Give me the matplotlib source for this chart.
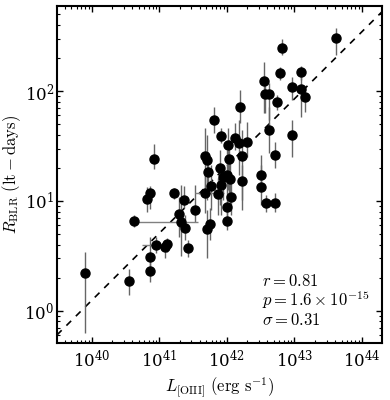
import numpy as np
import matplotlib
matplotlib.use("Agg")
import matplotlib.pyplot as plt

plt.rcParams['mathtext.fontset'] = 'cm'
plt.rcParams['font.family'] = 'serif'
plt.rcParams['font.serif'] = ['DejaVu Serif']

# log10 L[OIII] (erg/s), log10 R_BLR (lt-days) and the ends of the R error bars
log_L = [39.90, 40.56, 40.63, 40.82, 40.87, 40.86, 40.87, 40.93, 40.96, 41.08,
         41.12, 41.22, 41.30, 41.33, 41.38, 41.36, 41.43, 41.53, 41.68, 41.68,
         41.71, 41.70, 41.75, 41.72, 41.76, 41.81, 41.87, 41.90, 41.91, 41.92,
         41.94, 42.00, 42.01, 42.01, 42.02, 42.03, 42.05, 42.06, 42.12, 42.18,
         42.20, 42.22, 42.23, 42.30, 42.50, 42.51, 42.55, 42.57, 42.62, 42.58,
         42.72, 42.63, 42.71, 42.75, 42.79, 42.82, 42.96, 42.96, 43.10, 43.10,
         43.16, 43.61]
log_R = [0.346, 0.273, 0.820, 1.020, 1.069, 0.486, 0.364, 1.382, 0.598, 0.577,
         0.605, 1.069, 0.878, 0.808, 0.756, 1.008, 0.568, 0.917, 1.075, 1.409,
         1.372, 0.744, 0.790, 1.263, 1.136, 1.737, 1.060, 1.297, 1.594, 1.148,
         1.222, 1.236, 0.942, 0.820, 1.509, 1.384, 1.195, 1.033, 1.577, 1.523,
         1.852, 1.181, 1.409, 1.539, 1.124, 1.239, 2.092, 1.974, 1.971, 0.981,
         0.984, 1.646, 1.418, 1.901, 2.162, 2.395, 2.040, 1.600, 2.171, 2.019,
         1.949, 2.481]
log_R_lo = [-0.206, 0.143, 0.762, 0.902, 0.926, 0.371, 0.261, 1.291, 0.523, 0.477,
            0.535, 1.017, 0.671, 0.498, 0.644, 0.935, 0.489, 0.808, 0.890, 1.097,
            1.008, 0.480, 0.644, 1.117, 0.917, 1.618, 0.872, 0.963, 1.527, 0.872,
            1.008, 1.008, 0.826, 0.735, 1.097, 1.008, 0.917, 0.872, 1.464, 1.236,
            1.709, 1.008, 0.917, 1.400, 0.963, 1.097, 1.800, 1.800, 1.737, 0.900,
            0.900, 1.436, 1.300, 1.828, 2.101, 2.329, 1.919, 1.400, 2.101, 1.764,
            1.810, 2.328]
log_R_hi = [0.537, 0.380, 0.872, 1.129, 1.136, 0.671, 0.444, 1.518, 0.674, 0.644,
            0.662, 1.117, 1.036, 1.145, 0.872, 1.136, 0.644, 1.145, 1.282, 1.664,
            1.600, 0.917, 0.935, 1.391, 1.326, 1.855, 1.209, 1.464, 1.664, 1.282,
            1.326, 1.464, 1.054, 0.917, 1.664, 1.555, 1.372, 1.190, 1.709, 1.737,
            2.014, 1.326, 1.645, 1.719, 1.326, 1.418, 2.265, 2.074, 2.074, 1.054,
            1.072, 1.855, 1.536, 1.964, 2.219, 2.474, 2.128, 1.737, 2.228, 2.192,
            2.028, 2.574]

# the few points that also have L error bars
xerr_index = [8, 13, 18]
log_L_lo = [40.75, 40.63, 41.53]
log_L_hi = [41.16, 41.57, 41.96]

# best fit: log R = a + b (log L - 42)
fit_a = 1.317
fit_b = 0.612

L = 10**np.array(log_L)
R = 10**np.array(log_R)
yerr = [R - 10**np.array(log_R_lo), 10**np.array(log_R_hi) - R]

fig = plt.figure(figsize=(3.9, 4.0), dpi=100)
ax = fig.add_axes([0.146, 0.1425, 0.833, 0.8425])

ax.errorbar(L, R, yerr=yerr, fmt='none', ecolor='0.4', elinewidth=1.0, zorder=2)
xi = np.array(xerr_index)
ax.errorbar(L[xi], R[xi],
            xerr=[L[xi] - 10**np.array(log_L_lo), 10**np.array(log_L_hi) - L[xi]],
            fmt='none', ecolor='0.5', elinewidth=1.0, zorder=2)
ax.plot(L, R, 'o', color='k', markersize=6.5, zorder=3)

xlo, xhi = 39.487, 44.294
xx = np.linspace(xlo, xhi, 10)
ax.plot(10**xx, 10**(fit_a + fit_b*(xx - 42)), 'k--', lw=1.2, dashes=(4, 4), zorder=1)

ax.set_xscale('log')
ax.set_yscale('log')
ax.set_xlim(10**xlo, 10**xhi)
ax.set_ylim(10**-0.294, 10**2.775)
ax.set_xticks([1e40, 1e41, 1e42, 1e43, 1e44])
ax.set_yticks([1e0, 1e1, 1e2])

for s in ax.spines.values():
    s.set_linewidth(1.5)
ax.tick_params(which='both', direction='in', top=True, right=True, labelsize=12)
ax.tick_params(axis='y', pad=2)
ax.tick_params(axis='x', pad=5)
ax.tick_params(which='major', length=4, width=1)
ax.tick_params(which='minor', length=2, width=0.8)

ax.set_xlabel(r'$L_{\rm [OIII]}\ ({\rm erg\ s^{-1}})$', fontsize=12, labelpad=3)
ax.set_ylabel(r'$R_{\rm BLR}\ ({\rm lt-days})$', fontsize=12)
ax.yaxis.set_label_coords(-0.105, 0.5)

ax.text(0.631, 0.170, r'$r = 0.81$', transform=ax.transAxes, fontsize=12, va='baseline')
ax.text(0.631, 0.110, r'$p = 1.6\times10^{-15}$', transform=ax.transAxes, fontsize=12, va='baseline')
ax.text(0.631, 0.054, r'$\sigma = 0.31$', transform=ax.transAxes, fontsize=12, va='baseline')

fig.savefig('out.png', dpi=100)
